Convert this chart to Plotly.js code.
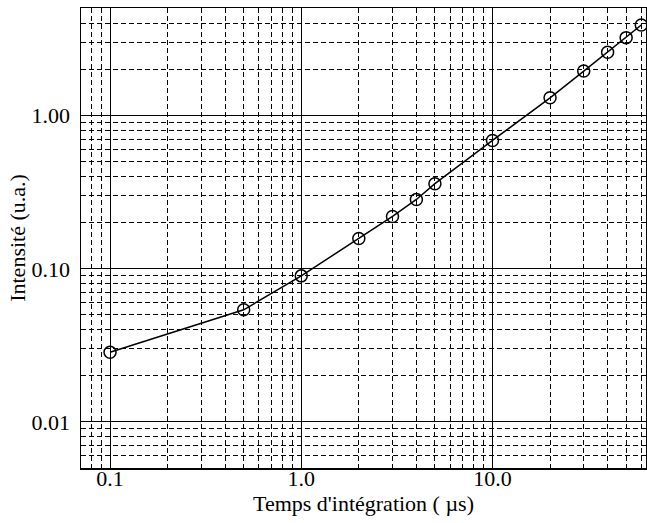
<!DOCTYPE html>
<html>
<head>
<meta charset="utf-8">
<script src="https://cdn.plot.ly/plotly-3.0.1.min.js"></script>
<style>html,body{margin:0;padding:0;background:#fff;}#chart{width:647px;height:523px;}</style>
</head>
<body>
<div id="chart"></div>
<script>
const tempsIntegration = [0.1, 0.5, 1, 2, 3, 4, 5, 10, 20, 30, 40, 50, 60];
const intensite = [0.0285, 0.054, 0.090, 0.158, 0.22, 0.284, 0.36, 0.69, 1.31, 1.96, 2.6, 3.24, 3.92];
const xTitle = "Temps d'intégration ( µs)";
const yTitle = "Intensité (u.a.)";

const serif = "Liberation Serif, Times New Roman, serif";
const dashGrid = "5px,3px";

const trace = {
  x: tempsIntegration,
  y: intensite,
  type: 'scatter',
  mode: 'lines+markers',
  line: {color: 'black', width: 1.5},
  marker: {symbol: 'circle-open', size: 12, color: 'black', line: {width: 1.5, color: 'black'}},
  cliponaxis: false,
  showlegend: false
};

const layout = {
  width: 647, height: 523,
  margin: {l: 81, r: 1, t: 8, b: 55},
  paper_bgcolor: 'white', plot_bgcolor: 'white',
  font: {family: serif, size: 22, color: 'black'},
  xaxis: {
    type: 'log',
    range: [Math.log10(0.0705), Math.log10(63.5)],
    dtick: 1, tick0: 0,
    tickformat: '.1f',
    ticks: '',
    ticklabelstandoff: -10,
    showgrid: true, gridcolor: 'black', gridwidth: 1,
    minor: {dtick: 'D1', showgrid: true, gridcolor: 'black', gridwidth: 1, griddash: dashGrid, ticks: ''},
    showline: true, linecolor: 'black', linewidth: 1.5, mirror: true,
    zeroline: false,
    tickfont: {family: serif, size: 22},
    title: {text: xTitle, font: {family: serif, size: 22}, standoff: 5}
  },
  yaxis: {
    type: 'log',
    range: [Math.log10(0.005), Math.log10(5.06)],
    dtick: 1, tick0: 0,
    tickformat: '.2f',
    ticks: '',
    ticklabelstandoff: 5,
    showgrid: true, gridcolor: 'black', gridwidth: 1,
    minor: {dtick: 'D1', showgrid: true, gridcolor: 'black', gridwidth: 1, griddash: dashGrid, ticks: ''},
    showline: true, linecolor: 'black', linewidth: 1.5, mirror: true,
    zeroline: false,
    tickfont: {family: serif, size: 22},
    title: {text: yTitle, font: {family: serif, size: 22}, standoff: 0}
  }
};

Plotly.newPlot('chart', [trace], layout, {displayModeBar: false, staticPlot: true});
</script>
</body>
</html>
